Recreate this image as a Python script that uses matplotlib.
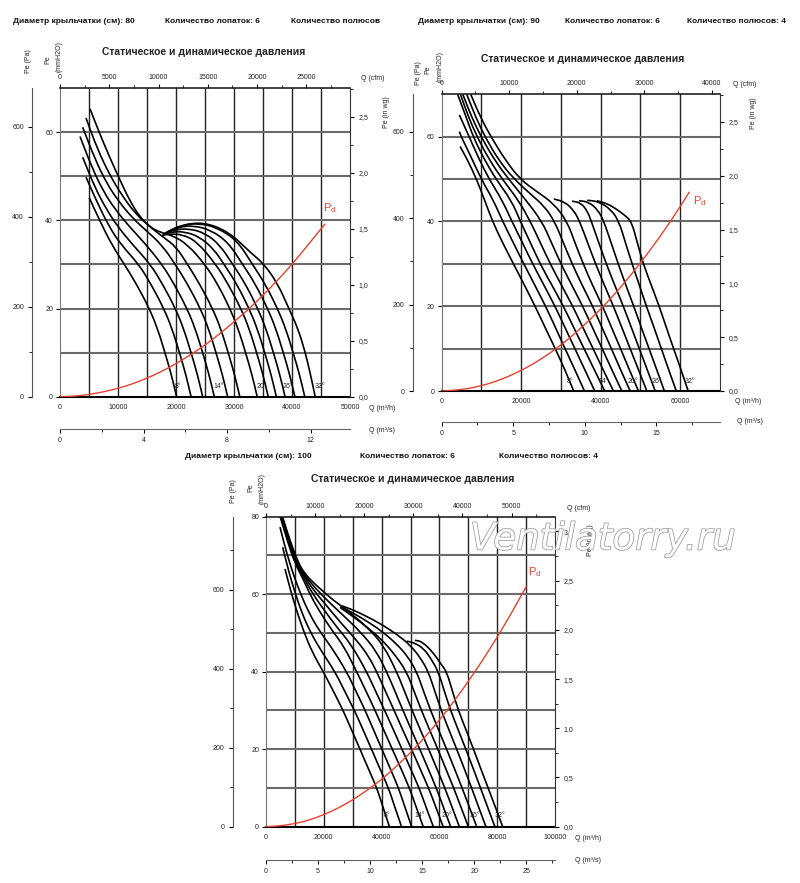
import matplotlib
matplotlib.use('Agg')
import matplotlib.pyplot as plt
import matplotlib.patheffects as pe
from matplotlib.path import Path
from matplotlib.patches import PathPatch
from matplotlib.ticker import MultipleLocator, FuncFormatter

plt.rcParams['font.family'] = ['Liberation Sans', 'DejaVu Sans']
plt.rcParams['mathtext.fontset'] = 'custom'
plt.rcParams['mathtext.rm'] = 'Liberation Sans'

W, H = 800, 883

angles = [8, 10, 12, 14, 16, 18, 20, 22, 24, 26, 28, 30, 32]
label_angles = [8, 14, 20, 26, 32]

# impeller 80 cm: (flow m3/h, pressure mmH2O) per blade angle
curves_80 = [
    [(5050, 45.1), (7000, 39.5), (9000, 34.3), (11100, 30), (13200, 25.5), (15400, 20), (16800, 15.5), (18100, 10), (19200, 5), (20100, 0)],
    [(4480, 49.8), (6500, 43.8), (8500, 38.5), (10500, 34.5), (13600, 30), (15700, 25.5), (17900, 20), (19300, 15.5), (20600, 10), (21700, 5), (22600, 0)],
    [(3910, 54.3), (6000, 47.5), (8000, 42.5), (10000, 38.5), (12500, 34.5), (15600, 30), (17700, 25.5), (19900, 20), (21300, 15.5), (22600, 10), (23700, 5), (24600, 0)],
    [(3450, 59.0), (5500, 52), (7500, 46.5), (9500, 42.5), (12000, 38.5), (14500, 35), (17600, 30), (19700, 25.5), (21900, 20), (23300, 15.5), (24600, 10), (25700, 5), (26600, 0)],
    [(3910, 61.1), (6000, 54), (8000, 48.5), (10000, 44.5), (12500, 40.5), (15000, 37.5), (17500, 34.5), (19900, 30), (22000, 25.5), (24200, 20), (25600, 15.5), (26900, 10), (28000, 5), (28900, 0)],
    [(4480, 63.2), (6500, 56), (8500, 50.5), (10500, 46), (13000, 41.5), (15500, 38.5), (18000, 36), (20000, 34), (22000, 30), (24100, 25.5), (26300, 20), (27700, 15.5), (29000, 10), (30100, 5), (31000, 0)],
    [(5170, 65.3), (6800, 59.8), (8500, 54.5), (10100, 49.8), (12000, 44.5), (13800, 40.7), (15500, 38.5), (17200, 37.3), (19500, 36.5), (22000, 34.5), (25000, 30), (27200, 25.5), (29300, 20), (30700, 15.5), (32000, 10), (33100, 5), (34000, 0)],
    [(17600, 36.6), (19000, 36.9), (21000, 36.8), (23500, 35.3), (26900, 30), (29000, 25.5), (31200, 20), (32600, 15.5), (33900, 10), (35000, 5), (35900, 0)],
    [(17800, 36.8), (19500, 37.4), (21500, 37.4), (24000, 36.3), (26500, 33.5), (28300, 30), (30500, 25.5), (32600, 20), (34000, 15.5), (35300, 10), (36400, 5), (37300, 0)],
    [(18000, 37.0), (20000, 37.9), (22300, 38.1), (25000, 37.1), (27500, 34.5), (29800, 30), (32000, 25.5), (34100, 20), (35500, 15.5), (36800, 10), (37900, 5), (38800, 0)],
    [(18200, 37.1), (20500, 38.5), (23000, 38.8), (26000, 37.8), (29000, 35), (31500, 30), (33700, 25.5), (35800, 20), (37200, 15.5), (38500, 10), (39600, 5), (40500, 0)],
    [(18300, 37.2), (21000, 39.0), (24000, 39.3), (27000, 38.4), (30500, 35.5), (33200, 30), (35400, 25.5), (37500, 20), (38900, 15.5), (40200, 10), (41300, 5), (42200, 0)],
    [(18400, 37.3), (21000, 38.9), (24700, 39.6), (29000, 37.5), (33000, 32.5), (35000, 30.3), (37400, 26.0), (39600, 19.6), (41000, 15.5), (42200, 10.5), (43200, 5), (44000, 0)],
]
pd_q_80 = [0, 2500, 5000, 7500, 10000, 12500, 15000, 17500, 20000, 22500, 25000, 27500, 30000, 32500, 35000, 37500, 40000, 42500, 45700]
pd_p_80 = [0, 0.1, 0.5, 1.1, 1.9, 2.9, 4.2, 5.7, 7.5, 9.5, 11.7, 14.2, 17.0, 19.8, 23.0, 26.4, 30.0, 34.0, 39.2]
lab_q_80 = [20400, 27300, 34800, 39300, 44800]

# impeller 90 cm
curves_90 = [
    [(4620, 57.7), (6500, 54.5), (8800, 49.9), (10800, 45), (12800, 40), (15300, 35), (18050, 30), (20800, 25), (23500, 20), (26000, 15), (28550, 10), (31000, 5), (33200, 0)],
    [(4450, 61.2), (5000, 59.8), (7000, 56), (10000, 49.9), (13000, 45), (15350, 40), (18000, 35), (20650, 30), (23400, 25), (26140, 20), (28600, 15), (31020, 10), (33500, 5), (35900, 0)],
    [(4450, 65.1), (7000, 59.8), (9500, 54.5), (12000, 49.9), (15200, 45), (17680, 40), (20300, 35), (22880, 30), (25700, 25), (28500, 20), (31000, 15), (33500, 10), (36000, 5), (38500, 0)],
    [(4000, 70), (6000, 65), (8000, 59.8), (10800, 54.5), (13700, 49.9), (17500, 45), (19800, 40), (22300, 35), (24760, 30), (27700, 25), (30610, 20), (33200, 15), (35800, 10), (38400, 5), (41000, 0)],
    [(4700, 70), (6800, 64.5), (9000, 59.8), (12000, 54.5), (15300, 49.9), (19300, 45), (22300, 40), (24800, 35), (27300, 30), (30100, 25), (32960, 20), (35500, 15), (38080, 10), (40600, 5), (43200, 0)],
    [(5300, 70), (7600, 64.5), (10000, 59.8), (13300, 54.5), (16800, 50), (20800, 45.5), (25240, 40), (27600, 35), (30000, 30), (32700, 25), (35470, 20), (37900, 15), (40380, 10), (42800, 5), (45300, 0)],
    [(6300, 70), (8600, 64.5), (11000, 59.8), (14300, 54.5), (18000, 50.2), (22300, 46.5), (25900, 43.5), (28400, 40), (30600, 35), (32800, 30), (35300, 25), (37980, 20), (40300, 15), (42690, 10), (45000, 5), (47400, 0)],
    [(7300, 70), (9800, 64.5), (12500, 59.8), (16000, 54.5), (19770, 49.9), (24000, 47), (28200, 44.2), (31550, 40), (33500, 35), (35600, 30), (37900, 25), (40480, 20), (42700, 15), (44990, 10), (47200, 5), (49500, 0)],
    [(28200, 45.3), (31000, 44.6), (33300, 42.5), (34700, 40), (36700, 35), (38700, 30), (40900, 25), (43190, 20), (45300, 15), (47400, 10), (49500, 5), (51600, 0)],
    [(32800, 44.8), (35000, 44.4), (36600, 42.5), (37650, 40), (39500, 35), (41400, 30), (43500, 25), (45690, 20), (47700, 15), (49700, 10), (51700, 5), (53700, 0)],
    [(34500, 44.9), (37000, 44.6), (39300, 42.7), (40800, 40), (42600, 35), (44400, 30), (46300, 25), (48310, 20), (50200, 15), (52150, 10), (54100, 5), (56000, 0)],
    [(36600, 45.0), (39500, 44.7), (42600, 42.8), (44600, 40), (46200, 35), (47900, 30), (49700, 25), (51480, 20), (53400, 15), (55240, 10), (57100, 5), (59000, 0)],
    [(39000, 44.9), (41660, 44.2), (43800, 43.0), (46000, 41.5), (47750, 40), (49200, 35), (50700, 30), (52700, 25), (54700, 20), (56500, 15), (58330, 10), (60200, 5), (62000, 0)],
]
pd_q_90 = [0, 5000, 10000, 15000, 20000, 25000, 30000, 35000, 40000, 45000, 50000, 55000, 60000, 62300]
pd_p_90 = [0, 0.3, 1.2, 2.7, 4.8, 7.5, 10.8, 14.8, 19.3, 24.4, 30.2, 36.5, 43.5, 47.0]
lab_q_90 = [32220, 40800, 48220, 54110, 62520]

# impeller 100 cm
curves_100 = [
    [(6570, 66.5), (8500, 61), (10500, 56), (13000, 50.5), (16000, 45), (19830, 40), (23300, 35), (26690, 30), (29600, 25), (32520, 20), (35400, 15), (38350, 10), (40500, 5), (42700, 0)],
    [(5770, 72.1), (8000, 65.5), (10000, 60.5), (12500, 55), (15500, 50), (19000, 45.5), (23870, 40), (27200, 35), (30610, 30), (33600, 25), (36510, 20), (39400, 15), (42390, 10), (44600, 5), (46900, 0)],
    [(4840, 77.3), (7000, 71), (9500, 65), (12000, 60), (15000, 55), (18500, 50.5), (22500, 46.5), (27910, 40), (31100, 35), (34320, 30), (37200, 25), (40110, 20), (43000, 15), (45860, 10), (48100, 5), (50400, 0)],
    [(4900, 80), (7500, 73.5), (10000, 68), (12800, 64), (15500, 59.5), (19000, 55), (23000, 50.5), (27000, 46.5), (31370, 40), (34600, 35), (37760, 30), (40700, 25), (43710, 20), (46700, 15), (49620, 10), (52000, 5), (54400, 0)],
    [(5100, 80), (7700, 73.6), (10200, 68.2), (12900, 64.5), (16000, 60.3), (20000, 56), (24500, 51.5), (29500, 47), (34830, 40), (37900, 35), (41060, 30), (44100, 25), (47060, 20), (50000, 15), (52990, 10), (55400, 5), (57900, 0)],
    [(5300, 80), (7900, 73.7), (10400, 68.4), (13000, 64.9), (16500, 61), (21000, 57), (26000, 52.5), (31500, 48), (35500, 44), (38290, 40), (41300, 35), (44330, 30), (47300, 25), (50350, 20), (53300, 15), (56260, 10), (58800, 5), (61300, 0)],
    [(5500, 80), (8100, 73.8), (10600, 68.6), (13100, 65.2), (17000, 61.6), (22000, 57.8), (27500, 54), (33000, 50), (38000, 45.5), (41750, 40), (44600, 35), (47400, 30), (50300, 25), (53210, 20), (56100, 15), (58920, 10), (61400, 5), (63900, 0)],
    [(5700, 80), (8300, 73.9), (10800, 68.8), (13200, 65.4), (17500, 62.2), (23000, 58.6), (29000, 55.3), (35000, 51.5), (40500, 47), (45210, 40), (47900, 35), (50580, 30), (53400, 25), (56290, 20), (59100, 15), (61890, 10), (64400, 5), (66900, 0)],
    [(25600, 56.6), (30000, 54.3), (35000, 51.5), (40000, 48.3), (44500, 44.5), (48670, 40), (51200, 35), (53790, 30), (56600, 25), (59440, 20), (62200, 15), (64940, 10), (67500, 5), (70000, 0)],
    [(25900, 56.8), (30000, 55.2), (35000, 53), (40000, 50.5), (45000, 47.3), (49000, 44), (52130, 40), (54500, 35), (56960, 30), (59700, 25), (62490, 20), (65200, 15), (67860, 10), (70400, 5), (72900, 0)],
    [(26200, 57.0), (30000, 56), (35000, 54.2), (40000, 52.2), (45000, 49.8), (50000, 46.8), (53500, 43.5), (56160, 40), (58400, 35), (60650, 30), (63300, 25), (65980, 20), (68600, 15), (71150, 10), (73600, 5), (76100, 0)],
    [(48700, 47.9), (51500, 47.4), (54500, 46), (57000, 43.5), (59620, 40), (61700, 35), (63880, 30), (66500, 25), (69140, 20), (71700, 15), (74230, 10), (76700, 5), (79200, 0)],
    [(51500, 48.1), (54000, 47.8), (57900, 44.9), (60500, 42), (62510, 40), (64500, 35), (66580, 30), (69200, 25), (71820, 20), (74300, 15), (76860, 10), (79400, 5), (81900, 0)],
]
pd_q_100 = [0, 5000, 10000, 15000, 20000, 25000, 30000, 35000, 40000, 45000, 50000, 55000, 60000, 65000, 70000, 75000, 80000, 85000, 90200]
pd_p_100 = [0, 0.2, 0.8, 1.7, 3.1, 4.8, 6.9, 9.4, 12.2, 15.5, 19.1, 23.1, 27.5, 32.3, 37.5, 43.0, 48.9, 55.2, 62.2]
lab_q_100 = [41760, 53280, 62510, 72310, 80960]

fig = plt.figure(figsize=(W / 100, H / 100), dpi=100)


def ftext(x, y, s, **kw):
    fig.text(x / W, 1 - y / H, s, **kw)


def smooth(ax, pts, **kw):
    # quadratic bezier through the read points (points act as control points)
    verts = [pts[0], ((pts[0][0] + pts[1][0]) / 2, (pts[0][1] + pts[1][1]) / 2)]
    codes = [Path.MOVETO, Path.LINETO]
    for i in range(1, len(pts) - 1):
        nxt = pts[i + 1]
        verts += [pts[i], ((pts[i][0] + nxt[0]) / 2, (pts[i][1] + nxt[1]) / 2)]
        codes += [Path.CURVE3, Path.CURVE3]
    verts.append(pts[-1])
    codes.append(Path.LINETO)
    ax.add_patch(PathPatch(Path(verts, codes), fill=False, **kw))


def draw_chart(box, qmax, pmax, qgrid, qlab, cfm_major, s_major, wg_major, pa_off, s_off,
               curves, pd_q, pd_p, lab_q, lab_p, pd_at):
    left, top, right, bottom = box
    ax = fig.add_axes([left / W, 1 - bottom / H, (right - left) / W, (bottom - top) / H])
    ax.set_xlim(0, qmax)
    ax.set_ylim(0, pmax)
    for q in range(qgrid, qmax, qgrid):
        ax.axvline(q, color='#222222', lw=1.0, zorder=1)
    for p in range(10, pmax, 10):
        ax.axhline(p, color='#6a6a6a', lw=1.5, zorder=1)
    for pts in curves:
        smooth(ax, pts, edgecolor='black', lw=1.2, zorder=3)
    smooth(ax, list(zip(pd_q, pd_p)), edgecolor='#e8412f', lw=1.0, zorder=4)
    for a, q in zip(label_angles, lab_q):
        ax.text(q, lab_p, f'{a}°', fontsize=5, ha='center', va='center', color='#222222', zorder=5)
    ax.text(pd_at[0], pd_at[1], r'$\mathrm{P_d}$', fontsize=8, color='#e8412f', ha='center', va='center')

    ax.xaxis.set_major_locator(MultipleLocator(qlab))
    ax.xaxis.set_major_formatter(FuncFormatter(lambda v, pos: f'{v:.0f}'))
    ax.yaxis.set_major_locator(MultipleLocator(20))
    ax.tick_params(axis='x', length=0, pad=5, labelsize=5, labelcolor='#222222')
    ax.tick_params(axis='y', length=3, width=0.8, pad=2, labelsize=5, labelcolor='#222222')
    ax.spines['left'].set_color('#777777')
    ax.spines['bottom'].set_linewidth(1.5)
    for s in ['top', 'right']:
        ax.spines[s].set_visible(False)

    # Pa scale on the far left
    pa = ax.twinx()
    pa.set_ylim(0, pmax * 9.80665)
    pa.yaxis.tick_left()
    pa.spines['left'].set_position(('outward', pa_off))
    pa.spines['left'].set_color('#555555')
    for s in ['right', 'top', 'bottom']:
        pa.spines[s].set_visible(False)
    pa.yaxis.set_major_locator(MultipleLocator(200))
    pa.yaxis.set_minor_locator(MultipleLocator(100))
    pa.tick_params(axis='y', which='major', length=3, width=0.8, pad=3, labelsize=5, labelcolor='#222222')
    pa.tick_params(axis='y', which='minor', length=2, width=0.6)

    # in wg scale on the right
    wg = ax.twinx()
    wg.set_ylim(0, pmax / 25.4)
    wg.yaxis.set_major_locator(MultipleLocator(wg_major))
    wg.yaxis.set_minor_locator(MultipleLocator(wg_major / 2))
    wg.yaxis.set_major_formatter(FuncFormatter(lambda v, pos: f'{v:.1f}'.replace('.', ',')))
    wg.tick_params(axis='y', which='major', length=3, width=0.8, pad=3, labelsize=5, labelcolor='#222222')
    wg.tick_params(axis='y', which='minor', length=2, width=0.6)
    wg.spines['right'].set_color('#333333')
    for s in ['left', 'top', 'bottom']:
        wg.spines[s].set_visible(False)

    # cfm scale on top
    cf = ax.twiny()
    cf.set_xlim(0, qmax * 0.58858)
    cf.xaxis.set_major_locator(MultipleLocator(cfm_major))
    cf.xaxis.set_minor_locator(MultipleLocator(cfm_major / 2))
    cf.xaxis.set_major_formatter(FuncFormatter(lambda v, pos: f'{v:.0f}'))
    cf.tick_params(axis='x', which='major', length=3, width=0.8, pad=2, labelsize=5, labelcolor='#222222')
    cf.tick_params(axis='x', which='minor', length=2, width=0.6)
    cf.spines['top'].set_color('#222222')
    cf.spines['top'].set_linewidth(1.2)
    for s in ['left', 'right', 'bottom']:
        cf.spines[s].set_visible(False)

    # m3/s scale below
    ms = ax.twiny()
    ms.set_xlim(0, qmax / 3600)
    ms.xaxis.tick_bottom()
    ms.spines['bottom'].set_position(('outward', s_off))
    ms.spines['bottom'].set_color('#666666')
    for s in ['left', 'right', 'top']:
        ms.spines[s].set_visible(False)
    ms.xaxis.set_major_locator(MultipleLocator(s_major))
    ms.xaxis.set_minor_locator(MultipleLocator(s_major / 2))
    ms.xaxis.set_major_formatter(FuncFormatter(lambda v, pos: f'{v:.0f}'))
    ms.tick_params(axis='x', which='major', length=3, width=0.7, pad=3, labelsize=5, labelcolor='#222222')
    ms.tick_params(axis='x', which='minor', length=2, width=0.6)
    return ax


hdr = dict(fontsize=6, fontweight='bold', ha='left', va='center', color='#111111')
ttl = dict(fontsize=7.5, fontweight='bold', ha='center', va='center', color='#222222')
lbl = dict(fontsize=5, ha='center', va='center', color='#222222')
vlb = dict(fontsize=5, ha='center', va='center', color='#222222', rotation=90)

# chart 1: 80 cm
ftext(12.7, 21.7, 'Диаметр крыльчатки (см): 80', **hdr)
ftext(165, 21.7, 'Количество лопаток: 6', **hdr)
ftext(291, 21.7, 'Количество полюсов', **hdr)
ftext(204, 52.3, 'Статическое и динамическое давления', **ttl)
draw_chart((60, 88, 350, 396.7), 50000, 70, 5000, 10000, 5000, 4, 0.5, 20, 23,
           curves_80, pd_q_80, pd_p_80, lab_q_80, 2.3, (46550, 42.7))
ftext(28.3, 61, 'Pe (Pa)', **vlb)
ftext(48.3, 60, 'Pe', **vlb)
ftext(59.3, 57, '(mmH2O)', **vlb)
ftext(373, 79, 'Q (cfm)', **lbl)
ftext(387, 112, 'Pe (in wg)', **vlb)
ftext(381.7, 408.3, 'Q (m³/h)', **lbl)
ftext(381.7, 430, 'Q (m³/s)', **lbl)

# chart 2: 90 cm
ftext(418.3, 21.7, 'Диаметр крыльчатки (см): 90', **hdr)
ftext(565, 21.7, 'Количество лопаток: 6', **hdr)
ftext(686.7, 21.7, 'Количество полюсов: 4', **hdr)
ftext(582.5, 59.3, 'Статическое и динамическое давления', **ttl)
draw_chart((441.7, 94.3, 720, 391), 70000, 70, 10000, 20000, 10000, 5, 0.5, 21, 22,
           curves_90, pd_q_90, pd_p_90, lab_q_90, 2.2, (64790, 44.9))
ftext(418.3, 73, 'Pe (Pa)', **vlb)
ftext(428.3, 70, 'Pe', **vlb)
ftext(440, 66, '(mmH2O)', **vlb)
ftext(745, 84.3, 'Q (cfm)', **lbl)
ftext(753.3, 113.3, 'Pe (in wg)', **vlb)
ftext(748.3, 401.7, 'Q (m³/h)', **lbl)
ftext(750, 421.7, 'Q (m³/s)', **lbl)

# chart 3: 100 cm
ftext(185, 456, 'Диаметр крыльчатки (см): 100', **hdr)
ftext(360, 456, 'Количество лопаток: 6', **hdr)
ftext(499.3, 456, 'Количество полюсов: 4', **hdr)
ftext(412.5, 479.3, 'Статическое и динамическое давления', **ttl)
draw_chart((266, 516.7, 555, 826.7), 100000, 80, 10000, 20000, 10000, 5, 0.5, 24, 24,
           curves_100, pd_q_100, pd_p_100, lab_q_100, 2.9, (93070, 65.6))
ftext(233.3, 491, 'Pe (Pa)', **vlb)
ftext(251, 488, 'Pe', **vlb)
ftext(261.7, 488, '(mmH2O)', **vlb)
ftext(578.3, 508.3, 'Q (cfm)', **lbl)
ftext(590.7, 540, 'Pe (in wg)', **vlb)
ftext(588.3, 838.3, 'Q (m³/h)', **lbl)
ftext(588.3, 860, 'Q (m³/s)', **lbl)

# watermark
ftext(470, 539, 'Ventilatorry.ru', fontsize=26.8, style='italic', family='DejaVu Sans', color='white',
      ha='left', va='center', zorder=20,
      path_effects=[pe.withStroke(linewidth=1.1, foreground='#9a9a9a')])

fig.savefig('out.png', dpi=100, facecolor='white')
